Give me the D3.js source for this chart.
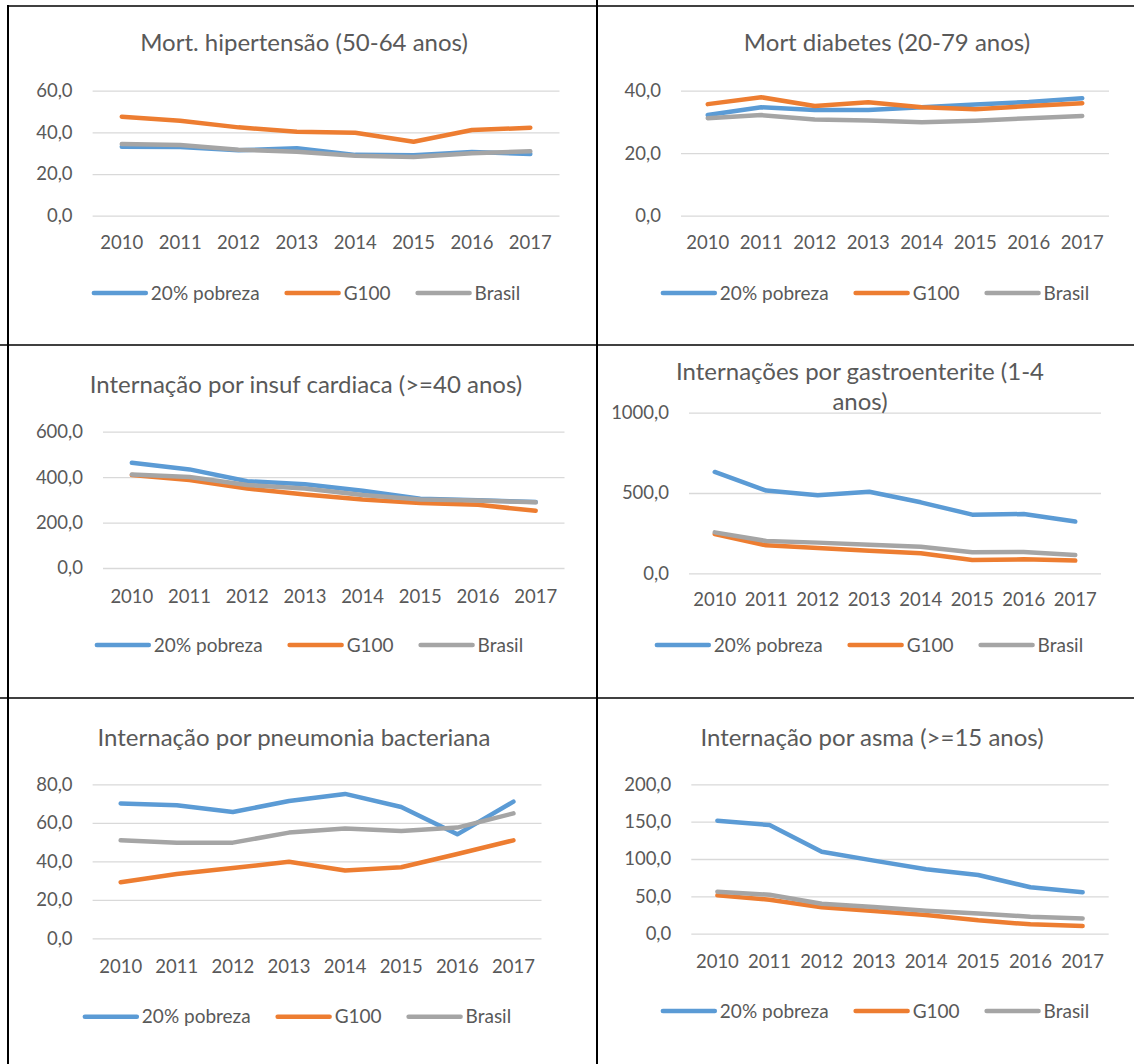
<!DOCTYPE html>
<html>
<head>
<meta charset="utf-8">
<script src="https://cdn.jsdelivr.net/npm/d3@7"></script>
<style>
  html, body { margin: 0; padding: 0; background: #fff; }
  svg { display: block; }
  text { font-family: Lato, "Open Sans", sans-serif; fill: #595959; }
</style>
</head>
<body>
<svg id="chart" width="1134" height="1064"></svg>
<script>
// ---------- DATA ----------
const years = ["2010", "2011", "2012", "2013", "2014", "2015", "2016", "2017"];
const seriesNames = ["20% pobreza", "G100", "Brasil"];

const titles = [
  ["Mort. hipertensão (50-64 anos)"],
  ["Mort diabetes (20-79 anos)"],
  ["Internação por insuf cardiaca (>=40 anos)"],
  ["Internações por gastroenterite (1-4", "anos)"],
  ["Internação por pneumonia bacteriana"],
  ["Internação por asma (>=15 anos)"]
];

const hipPobreza = [33.1, 33.0, 31.4, 32.4, 29.2, 29.0, 30.6, 29.6];
const hipG100    = [47.5, 45.6, 42.4, 40.3, 39.8, 35.5, 41.1, 42.2];
const hipBrasil  = [34.4, 33.9, 31.7, 30.7, 28.8, 28.2, 30.0, 30.9];
const hipTicks   = [0, 20, 40, 60];

const diaPobreza = [32.2, 34.7, 33.8, 33.8, 34.7, 35.6, 36.4, 37.6];
const diaG100    = [35.7, 37.9, 35.1, 36.3, 34.7, 34.1, 35.1, 36.0];
const diaBrasil  = [31.2, 32.2, 30.8, 30.5, 29.9, 30.4, 31.2, 31.9];
const diaTicks   = [0, 20, 40];

const icPobreza = [463, 434, 382, 369, 340, 305, 298, 290];
const icG100    = [409, 387, 350, 324, 302, 286, 278, 252];
const icBrasil  = [412, 401, 365, 350, 321, 302, 297, 289];
const icTicks   = [0, 200, 400, 600];

const gePobreza = [631, 515, 486, 508, 442, 365, 369, 322];
const geG100    = [245, 174, 158, 141, 125, 83, 87, 79];
const geBrasil  = [255, 201, 191, 178, 166, 131, 133, 114];
const geTicks   = [0, 500, 1000];

const pnPobreza = [70.0, 69.1, 65.6, 71.3, 75.0, 68.2, 54.0, 71.0];
const pnG100    = [29.1, 33.4, 36.5, 39.8, 35.2, 36.9, 43.8, 50.9];
const pnBrasil  = [50.9, 49.7, 49.7, 54.9, 57.1, 55.8, 57.5, 64.9];
const pnTicks   = [0, 20, 40, 60, 80];

const asPobreza = [151.3, 145.5, 109.8, 97.8, 86.2, 78.6, 62.1, 55.4];
const asG100    = [51.3, 45.5, 35.3, 30.4, 25.0, 17.9, 12.5, 10.3];
const asBrasil  = [56.3, 52.2, 40.2, 35.7, 30.8, 27.2, 22.8, 20.5];
const asTicks   = [0, 50, 100, 150, 200];

// ---------- STYLE / LAYOUT ----------
const colors = ["#5b9bd5", "#ed7d31", "#a5a5a5"];
const locale = d3.formatLocale({ decimal: ",", thousands: ".", grouping: [3], currency: ["R$", ""] });
const fmt = locale.format(".1f");
const axisFont = 18.5, legFont = 19, titleFont = 24;

const panels = [
  { series: [hipPobreza, hipG100, hipBrasil], ticks: hipTicks, title: titles[0],
    x0: 92.6, x1: 559.5, yb: 215.7, yt: 90.7, titleX: 304, titleY: 43, xLabY: 243, legY: 293, legX: 307 },
  { series: [diaPobreza, diaG100, diaBrasil], ticks: diaTicks, title: titles[1],
    x0: 681, x1: 1109, yb: 215.7, yt: 90.7, titleX: 887, titleY: 43, xLabY: 243, legY: 293, legX: 876 },
  { series: [icPobreza, icG100, icBrasil], ticks: icTicks, title: titles[2],
    x0: 103, x1: 564.5, yb: 568, yt: 431.7, titleX: 306, titleY: 385, xLabY: 597, legY: 645, legX: 310 },
  { series: [gePobreza, geG100, geBrasil], ticks: geTicks, title: titles[3],
    x0: 689, x1: 1101, yb: 573.3, yt: 412.7, titleX: 860, titleY: 371.7, xLabY: 600, legY: 645, legX: 870 },
  { series: [pnPobreza, pnG100, pnBrasil], ticks: pnTicks, title: titles[4],
    x0: 92.6, x1: 541.5, yb: 938.3, yt: 784.3, titleX: 294, titleY: 737.7, xLabY: 966.7, legY: 1016.7, legX: 298 },
  { series: [asPobreza, asG100, asBrasil], ticks: asTicks, title: titles[5],
    x0: 691.3, x1: 1108.7, yb: 933.7, yt: 784.3, titleX: 872, titleY: 737.7, xLabY: 961.7, legY: 1011, legX: 876 }
];

const svg = d3.select("#chart");

// ---------- TABLE BORDERS ----------
const borders = svg.append("g").attr("stroke", "#000").attr("fill", "none");
borders.append("line").attr("x1", 7).attr("x2", 1134).attr("y1", 6).attr("y2", 6).attr("stroke-width", 1.5);
borders.append("line").attr("x1", 8).attr("x2", 8).attr("y1", 5).attr("y2", 1064).attr("stroke-width", 2);
borders.append("line").attr("x1", 597).attr("x2", 597).attr("y1", 0).attr("y2", 1064).attr("stroke-width", 2);
borders.append("line").attr("x1", 0).attr("x2", 1134).attr("y1", 345).attr("y2", 345).attr("stroke-width", 1.5);
borders.append("line").attr("x1", 0).attr("x2", 1134).attr("y1", 698).attr("y2", 698).attr("stroke-width", 1.5);

// ---------- PANELS ----------
panels.forEach(p => {
  const g = svg.append("g");
  const x = d3.scaleBand().domain(years).range([p.x0, p.x1]);
  const y = d3.scaleLinear().domain([0, d3.max(p.ticks)]).range([p.yb, p.yt]);

  // gridlines
  const grid = g.append("g").attr("transform", `translate(${p.x0},0)`)
    .call(d3.axisLeft(y).tickValues(p.ticks).tickSize(-(p.x1 - p.x0)).tickFormat(""));
  grid.select(".domain").remove();
  grid.selectAll(".tick line").attr("stroke", "#d9d9d9").attr("stroke-width", 1.3);

  // y labels
  const ya = g.append("g").attr("transform", `translate(${p.x0 - 20},0)`)
    .call(d3.axisLeft(y).tickValues(p.ticks).tickSize(0).tickPadding(0).tickFormat(fmt));
  ya.select(".domain").remove();
  ya.selectAll("text").attr("font-size", axisFont).attr("fill", "#595959")
    .attr("font-family", "Lato, sans-serif");

  // x labels
  const xa = g.append("g").attr("transform", `translate(0,${p.xLabY})`)
    .call(d3.axisBottom(x).tickSize(0).tickPadding(0));
  xa.select(".domain").remove();
  xa.selectAll("text").attr("font-size", axisFont).attr("fill", "#595959")
    .attr("dy", "0.35em").attr("font-family", "Lato, sans-serif");

  // lines
  const line = d3.line().x((d, i) => x(years[i]) + x.bandwidth() / 2).y(d => y(d));
  p.series.forEach((s, i) => {
    g.append("path").datum(s).attr("d", line)
      .attr("fill", "none").attr("stroke", colors[i]).attr("stroke-width", 4.5)
      .attr("stroke-linejoin", "round").attr("stroke-linecap", "round");
  });

  // title
  const t = g.append("text").attr("text-anchor", "middle").attr("font-size", titleFont);
  p.title.forEach((ln, k) => {
    t.append("tspan").attr("x", p.titleX).attr("y", p.titleY + k * 30).attr("dy", "0.35em").text(ln);
  });

  // legend (centered)
  const lg = g.append("g");
  const items = seriesNames.map((n, i) => {
    const it = lg.append("g");
    it.append("line").attr("x1", 0).attr("x2", 52).attr("y1", p.legY).attr("y2", p.legY)
      .attr("stroke", colors[i]).attr("stroke-width", 4.5).attr("stroke-linecap", "round");
    const tx = it.append("text").attr("x", 57).attr("y", p.legY).attr("dy", "0.35em")
      .attr("font-size", legFont).text(n);
    return { it, w: 57 + tx.node().getComputedTextLength() };
  });
  const gap = 27;
  const total = d3.sum(items, d => d.w) + gap * (items.length - 1);
  let cx = p.legX - total / 2;
  items.forEach(d => { d.it.attr("transform", `translate(${cx},0)`); cx += d.w + gap; });
});
</script>
</body>
</html>
